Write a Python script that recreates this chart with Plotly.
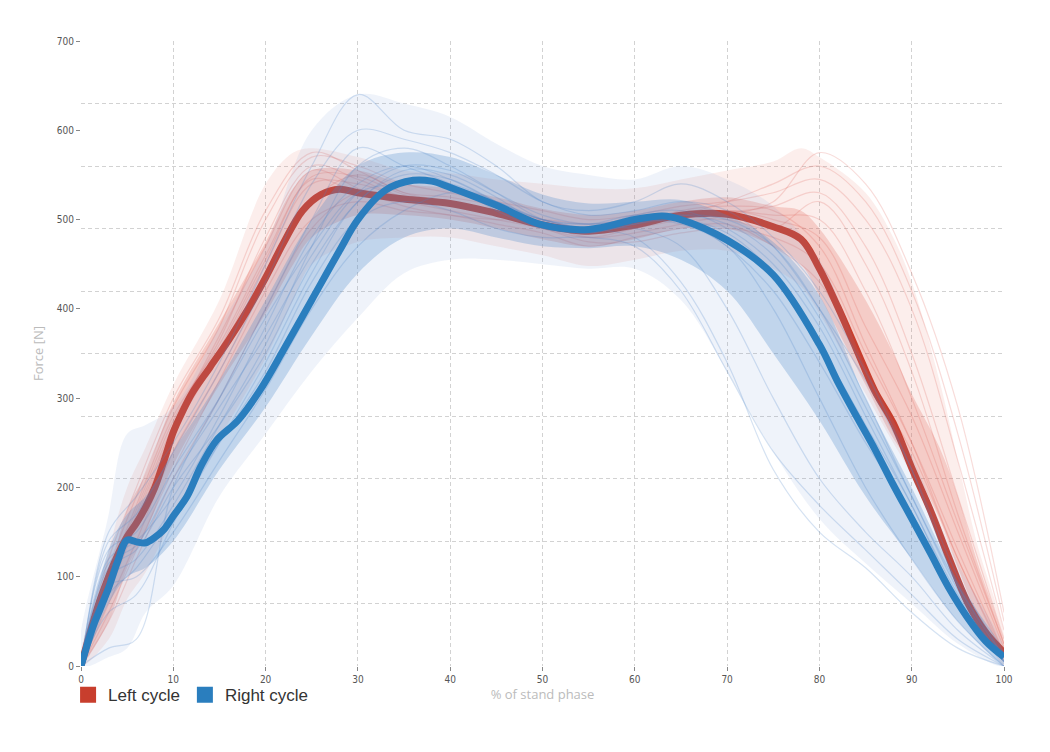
import plotly.graph_objects as go

# ---------------- data ----------------
# mean curves
left_mean_x = [0, 2, 4, 5, 6, 7, 8, 9, 10, 11, 12, 14, 16, 18, 20, 22, 24, 26, 28, 30, 35, 40, 45, 50,
               55, 60, 65, 70, 75, 78, 80, 82, 84, 86, 88, 90, 92, 94, 96, 98, 100]
left_mean_y = [0, 72, 125, 145, 160, 178, 200, 230, 262, 285, 305, 335, 365, 398, 435, 475, 510, 528, 534,
               530, 523, 518, 507, 494, 487, 494, 505, 506, 492, 478, 445, 402, 355, 308, 272, 222, 175,
               122, 72, 38, 15]

right_mean_x = [0, 1.3, 2, 3, 4, 5, 6, 7, 8, 9, 10, 11.5, 13, 14.7, 17, 19.4, 22, 25, 28, 30, 33, 36, 38,
                40, 45, 50, 55, 60, 63, 65, 70, 75, 80, 82, 84, 86, 88, 90, 92, 94, 96, 98, 100]
right_mean_y = [0, 44, 62, 88, 118, 141, 139, 138, 144, 153, 168, 190, 224, 253, 275, 309, 355, 410, 465,
                500, 533, 544, 543, 536, 516, 494, 489, 500, 504, 500, 477, 438, 360, 318, 280, 243, 203,
                165, 127, 88, 55, 28, 10]

# envelopes of the individual cycles (outer = all cycles, inner = dense core)
left_band_x = [0, 3, 5, 7, 10, 15, 20, 23, 25, 30, 35, 40, 45, 50, 55, 60, 65, 70, 75, 78, 80, 85, 88, 90,
               93, 95, 97, 100]
left_outer_lo = [0, 30, 75, 105, 165, 255, 345, 410, 450, 475, 480, 480, 470, 460, 448, 455, 465, 465, 445,
                 425, 395, 305, 250, 215, 155, 105, 55, 0]
left_outer_hi = [0, 130, 200, 245, 315, 410, 540, 575, 580, 570, 555, 552, 545, 540, 535, 535, 545, 555,
                 565, 580, 570, 530, 480, 430, 320, 230, 140, 35]
left_inner_lo = [0, 50, 110, 150, 225, 315, 395, 450, 480, 505, 505, 500, 490, 478, 470, 478, 490, 490,
                 470, 450, 415, 315, 255, 225, 165, 110, 60, 5]
left_inner_hi = [0, 100, 175, 215, 295, 385, 475, 535, 555, 555, 540, 535, 525, 512, 505, 510, 520, 525,
                 515, 510, 490, 410, 350, 305, 245, 190, 120, 25]

right_band_x = [0, 3, 5, 7, 10, 15, 20, 25, 30, 35, 40, 45, 50, 55, 60, 65, 70, 75, 80, 85, 90, 95, 100]
right_outer_lo = [0, 10, 20, 60, 90, 190, 260, 330, 390, 440, 455, 455, 450, 445, 445, 410, 330, 240, 165,
                  115, 70, 25, 0]
right_outer_hi = [0, 170, 260, 270, 290, 380, 470, 600, 640, 630, 615, 585, 560, 550, 545, 560, 545, 515,
                  455, 335, 235, 115, 20]
right_inner_lo = [0, 70, 100, 110, 140, 220, 290, 370, 440, 480, 490, 480, 470, 468, 470, 455, 420, 350,
                  275, 190, 120, 50, 2]
right_inner_hi = [0, 130, 170, 190, 240, 320, 410, 500, 560, 575, 570, 550, 528, 518, 520, 522, 505, 475,
                  415, 300, 200, 95, 15]

# a selection of individual cycles
cycle_x = [0, 3, 6, 10, 15, 20, 25, 30, 35, 40, 45, 50, 55, 60, 65, 70, 75, 80, 85, 90, 95, 100]
left_cycles = [
    [0, 110, 190, 290, 380, 500, 570, 560, 540, 530, 520, 510, 500, 505, 515, 520, 530, 545, 500, 400, 230, 40],
    [0, 60, 130, 220, 320, 420, 500, 520, 510, 505, 495, 485, 470, 480, 490, 495, 470, 430, 330, 240, 120, 10],
    [0, 80, 160, 260, 350, 450, 540, 540, 525, 520, 505, 490, 480, 490, 500, 510, 500, 480, 380, 280, 150, 20],
    [0, 90, 170, 270, 370, 470, 555, 535, 515, 505, 500, 500, 495, 500, 500, 500, 490, 520, 450, 330, 170, 25],
    [0, 70, 140, 240, 330, 430, 520, 550, 530, 525, 515, 500, 490, 495, 510, 515, 510, 470, 360, 250, 120, 15],
    [0, 100, 180, 280, 360, 460, 545, 530, 520, 515, 510, 495, 485, 490, 505, 520, 540, 560, 520, 420, 260, 50],
    [0, 120, 200, 300, 390, 510, 575, 555, 530, 520, 510, 495, 480, 485, 495, 505, 520, 575, 540, 440, 290, 60],
    [0, 50, 120, 210, 300, 400, 490, 530, 520, 510, 500, 490, 475, 475, 485, 490, 480, 450, 350, 250, 130, 15],
    [0, 85, 165, 265, 355, 455, 548, 548, 528, 520, 508, 497, 490, 495, 505, 510, 505, 500, 420, 300, 160, 25],
    [0, 95, 175, 275, 365, 480, 560, 545, 525, 518, 510, 500, 488, 492, 502, 508, 515, 530, 470, 350, 190, 30],
]
right_cycles = [
    [0, 150, 190, 250, 340, 450, 560, 640, 600, 590, 560, 520, 510, 520, 540, 520, 480, 420, 330, 220, 90, 10],
    [0, 80, 110, 170, 250, 330, 430, 500, 520, 510, 490, 480, 480, 470, 420, 330, 240, 180, 130, 80, 30, 0],
    [0, 120, 140, 190, 280, 380, 480, 540, 560, 545, 520, 500, 495, 505, 500, 470, 420, 340, 250, 170, 70, 5],
    [0, 110, 130, 200, 270, 350, 450, 520, 555, 550, 525, 495, 490, 505, 510, 490, 450, 380, 280, 180, 80, 5],
    [0, 20, 30, 200, 300, 400, 500, 580, 560, 540, 510, 490, 485, 495, 505, 500, 470, 400, 300, 190, 90, 10],
    [0, 130, 150, 220, 300, 390, 470, 530, 540, 540, 520, 500, 495, 500, 495, 470, 400, 300, 200, 120, 50, 0],
    [0, 100, 120, 180, 270, 360, 470, 560, 580, 560, 530, 500, 490, 480, 430, 340, 220, 150, 110, 60, 20, 0],
    [0, 140, 170, 240, 330, 430, 540, 600, 590, 575, 550, 520, 505, 510, 520, 510, 470, 400, 320, 220, 100, 10],
    [0, 90, 100, 150, 230, 310, 400, 470, 510, 530, 520, 500, 490, 490, 470, 400, 300, 210, 150, 100, 40, 0],
    [0, 115, 135, 210, 290, 370, 460, 530, 560, 555, 530, 505, 495, 500, 505, 495, 460, 390, 290, 190, 85, 5],
    [0, 60, 80, 160, 250, 340, 440, 520, 550, 545, 520, 495, 485, 495, 500, 485, 440, 360, 270, 180, 75, 5],
]

series_names = ["Left cycle", "Right cycle"]
y_ticks = [0, 100, 200, 300, 400, 500, 600, 700]
y_grid = [0, 70, 140, 210, 280, 350, 420, 490, 560, 630, 700]
x_ticks = [0, 10, 20, 30, 40, 50, 60, 70, 80, 90, 100]

# ---------------- figure ----------------
RED = "rgb(200,62,45)"
BLUE = "rgb(42,126,190)"
GRID = "#d2d2d2"

fig = go.Figure()


def band(x, lo, hi, color):
    return go.Scatter(x=list(x) + list(x)[::-1], y=list(hi) + list(lo)[::-1], fill="toself",
                      fillcolor=color, line=dict(width=0), mode="lines", showlegend=False,
                      hoverinfo="skip", line_shape="spline")


# left cycles
fig.add_trace(band(left_band_x, left_outer_lo, left_outer_hi, "rgba(232,120,110,0.13)"))
fig.add_trace(band(left_band_x, left_inner_lo, left_inner_hi, "rgba(225,95,85,0.24)"))
for c in left_cycles:
    fig.add_trace(go.Scatter(x=cycle_x, y=c, mode="lines", line=dict(color="rgba(225,95,85,0.22)", width=1.2),
                             line_shape="spline", showlegend=False, hoverinfo="skip"))
fig.add_trace(go.Scatter(x=left_mean_x, y=left_mean_y, mode="lines", line=dict(color=RED, width=7),
                         line_shape="spline", showlegend=False))

# right cycles
fig.add_trace(band(right_band_x, right_outer_lo, right_outer_hi, "rgba(120,160,215,0.12)"))
fig.add_trace(band(right_band_x, right_inner_lo, right_inner_hi, "rgba(75,135,200,0.28)"))
for c in right_cycles:
    fig.add_trace(go.Scatter(x=cycle_x, y=c, mode="lines", line=dict(color="rgba(80,135,200,0.24)", width=1.2),
                             line_shape="spline", showlegend=False, hoverinfo="skip"))
fig.add_trace(go.Scatter(x=right_mean_x, y=right_mean_y, mode="lines", line=dict(color=BLUE, width=7),
                         line_shape="spline", showlegend=False))

# legend entries
for name, col in zip(series_names, [RED, BLUE]):
    fig.add_trace(go.Scatter(x=[None], y=[None], mode="markers", name=name, yaxis="y2",
                             marker=dict(symbol="square", size=17, color=col)))

tick_font = dict(family="Liberation Sans Narrow, DejaVu Sans Condensed, Arial", size=10, color="#555")
title_font = dict(family="Open Sans, Arial", size=13, color="#bbb")

fig.update_layout(
    width=1050, height=752,
    margin=dict(l=73, r=54, t=33, b=94),
    paper_bgcolor="white", plot_bgcolor="white",
    showlegend=True,
    legend=dict(orientation="h", x=-0.014, xanchor="left", y=-0.018, yanchor="top",
                font=dict(family="Liberation Sans, Arial", size=17, color="#333"),
                itemclick=False, bgcolor="rgba(0,0,0,0)", tracegroupgap=0),
    xaxis=dict(range=[0, 100], tickvals=x_ticks, ticks="outside", ticklen=4, tickcolor="#888",
               tickfont=tick_font, showgrid=True, gridcolor=GRID, griddash="4px,3px", gridwidth=1,
               zeroline=False, showline=False, automargin=False,
               title=dict(text="% of stand phase", font=title_font, standoff=4)),
    yaxis=dict(range=[0, 700], tickvals=y_grid, showticklabels=False, ticks="", showgrid=True,
               gridcolor=GRID, griddash="4px,3px", gridwidth=1, zeroline=False,
               showline=False, automargin=False),
    yaxis2=dict(range=[0, 700], overlaying="y", side="left", tickvals=y_ticks, ticks="outside",
                ticklen=4, tickcolor="#888", tickfont=tick_font, showgrid=False, zeroline=False,
                automargin=False,
                title=dict(text="Force [N]", font=title_font, standoff=10)),
)

fig.write_html("out.html")
